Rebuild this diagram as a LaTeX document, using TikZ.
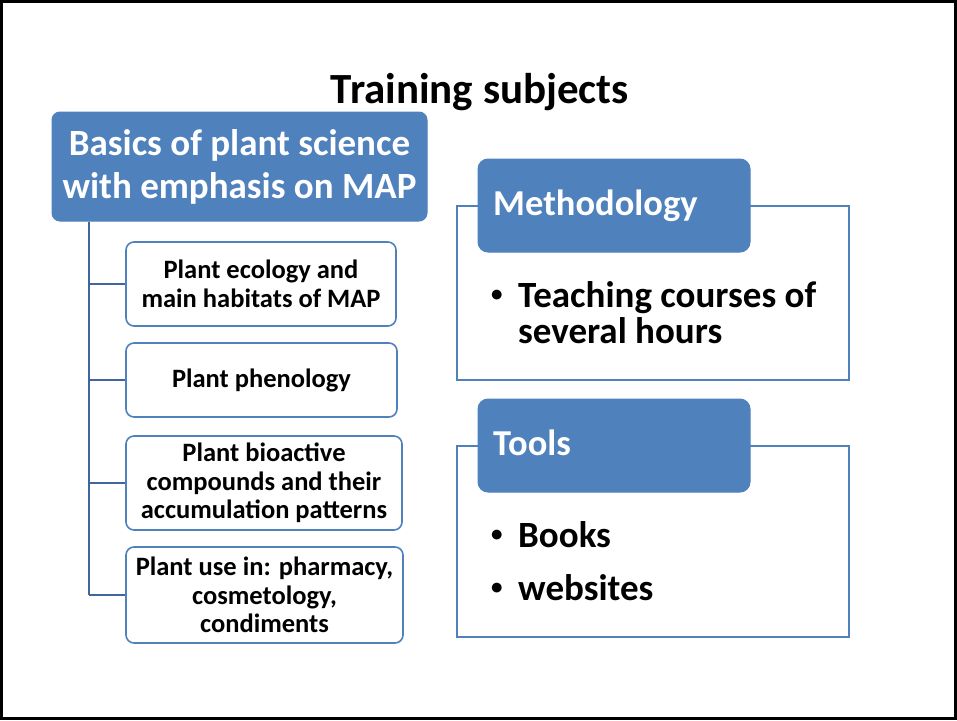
\documentclass[tikz,border=0pt]{standalone}
\usepackage{fontspec}
\setmainfont{Carlito}
\definecolor{officeblue}{RGB}{79,129,189}
\definecolor{linkblue}{RGB}{64,102,160}
\tikzset{
  x=1pt,y=-1pt,
  mainbox/.style={draw=officeblue,fill=officeblue,rounded corners=8pt,line width=1pt,text=white,font=\fontsize{37}{43}\selectfont\bfseries,align=center,inner sep=0pt},
  childbox/.style={draw=officeblue,fill=white,rounded corners=8pt,line width=1.6pt,text=black,font=\fontsize{26.5}{28.5}\selectfont\bfseries,align=center,inner sep=0pt},
  groupframe/.style={draw=officeblue,fill=white,line width=2pt},
  headbox/.style={draw=officeblue,fill=officeblue,rounded corners=10pt,line width=1pt,inner sep=0pt},
  headtext/.style={text=white,font=\fontsize{36.5}{40}\selectfont\bfseries,inner sep=0pt,anchor=base west},
  bullettext/.style={text=black,font=\fontsize{37}{40}\selectfont\bfseries,inner sep=0pt,anchor=base west},
  bulletmark/.style={text=black,font=\fontsize{23}{24}\selectfont\bfseries,inner sep=0pt,anchor=base west},
  link/.style={draw=linkblue,line width=2.5pt}
}
\begin{document}
\begin{tikzpicture}
\useasboundingbox (0,0) rectangle (957,720);
\draw[black,line width=3pt] (1.5,1.5) rectangle (955.5,718.5);
\node[inner sep=0pt,anchor=base,font=\fontsize{43}{48}\selectfont\bfseries] (title) at (480,103) {Training subjects};
% left tree
\node[mainbox,minimum width=375pt,minimum height=109pt] (main) at (239.5,166.5) {Basics of plant science\\with emphasis on MAP};
\node[childbox,minimum width=270pt,minimum height=84pt] (c1) at (261,284) {Plant ecology and\\main habitats of MAP};
\node[childbox,minimum width=271pt,minimum height=74pt] (c2) at (261.5,380) {Plant phenology};
\node[childbox,minimum width=276pt,minimum height=94pt] (c3) at (264,483) {Plant bioactive\\compounds and their\\accumulation patterns};
\node[childbox,minimum width=277pt,minimum height=96pt] (c4) at (264.5,595) {Plant use in: pharmacy,\\cosmetology,\\condiments};
\coordinate (vbot) at (89,595);
\draw[link] (main.south -| vbot) -- (vbot);
\draw[link] (vbot |- c1.west) -- (c1.west);
\draw[link] (vbot |- c2.west) -- (c2.west);
\draw[link] (vbot |- c3.west) -- (c3.west);
\draw[link] (vbot) -- (c4.west);
% methodology
\node[groupframe,minimum width=392pt,minimum height=174pt,inner sep=0pt] (g1) at (653,293) {};
\node[headbox,minimum width=272pt,minimum height=93pt] (h1) at (614,205.5) {};
\node[headtext] (h1t) at (493,215) {Methodology};
\node[bulletmark] (b1a) at (491,301) {•};
\node[bullettext] (t1a) at (518,307) {Teaching courses of};
\node[bullettext] (t1b) at (518,343) {several hours};
% tools
\node[groupframe,minimum width=392pt,minimum height=191pt,inner sep=0pt] (g2) at (653,541.5) {};
\node[headbox,minimum width=272pt,minimum height=93pt] (h2) at (614,445.5) {};
\node[headtext] (h2t) at (493,455) {Tools};
\node[bulletmark] (b2a) at (491,541) {•};
\node[bullettext] (t2a) at (518,547) {Books};
\node[bulletmark] (b2b) at (491,594) {•};
\node[bullettext] (t2b) at (518,600) {websites};
\end{tikzpicture}
\end{document}
